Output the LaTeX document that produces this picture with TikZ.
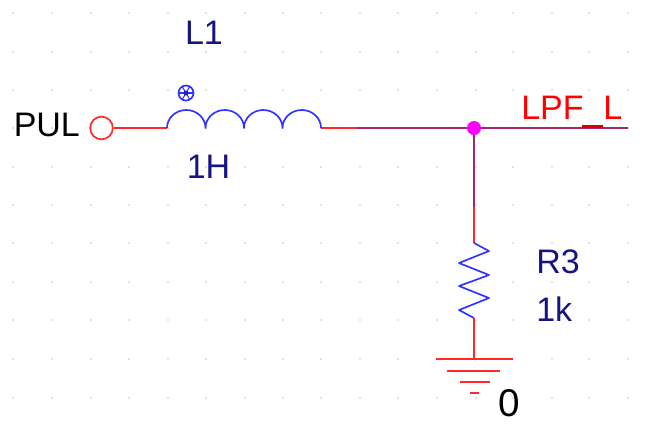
\documentclass[tikz,border=0pt]{standalone}
\usepackage{fontspec}
\setmainfont{Liberation Sans}
\definecolor{wirered}{RGB}{255,40,40}
\definecolor{partblue}{RGB}{50,50,255}
\definecolor{netpurple}{RGB}{160,40,110}
\definecolor{labelblue}{RGB}{20,20,130}
\definecolor{griddot}{RGB}{195,195,195}
\definecolor{junction}{RGB}{255,0,255}
\tikzset{
  wire/.style={draw=wirered,line width=1.25pt},
  part/.style={draw=partblue,line width=1.25pt},
  net/.style={draw=netpurple,line width=1.25pt},
  txt/.style={inner sep=0pt,font=\fontsize{25.5pt}{25.5pt}\selectfont},
  bluetxt/.style={txt,text=labelblue},
  blacktxt/.style={txt,text=black},
  redtxt/.style={txt,text=red},
}
\begin{document}
\begin{tikzpicture}[x=0.75pt,y=-0.75pt]
\useasboundingbox (0,0) rectangle (663,426);
\fill[white] (0,0) rectangle (663,426);
% grid dots
\foreach \gx in {13,52,91,129,168,206,245,283,321,360,398,437,476,513,552,589,628}
  \foreach \gy in {13,52,90,128,167,205,243,282,320,359,398}
    \fill[griddot] (\gx,\gy) circle[radius=0.85];
% anchors
\node[circle,draw=wirered,line width=1.25pt,minimum size=17pt,inner sep=0pt] (pin) at (101.5,128) {};
\coordinate (coilA) at (167,128);
\coordinate (coilB) at (321,128);
\coordinate (wireEnd) at (358,128);
\node[circle,fill=junction,inner sep=0pt,minimum size=10.5pt] (jn) at (474,128) {};
\coordinate (netEnd) at (628,128);
\coordinate (split) at (474,207);
\coordinate (resTop) at (474,243);
\coordinate (resBot) at (474,318);
\coordinate (gnd) at (474,359);
% wires
\draw[wire] (pin.east) -- (coilA);
\draw[wire] (coilB) -- (wireEnd);
\draw[net] (wireEnd) -- (jn) -- (netEnd);
\draw[net] (jn) -- (split);
\draw[wire] (split) -- (resTop);
\draw[wire] (resBot) -- (gnd);
% inductor
\draw[part,line join=round] (coilA) arc[start angle=180,end angle=360,x radius=19.25,y radius=18]
  arc[start angle=180,end angle=360,x radius=19.25,y radius=18]
  arc[start angle=180,end angle=360,x radius=19.25,y radius=18]
  arc[start angle=180,end angle=360,x radius=19.25,y radius=18];
% phase dot
\coordinate (phase) at (186,93);
\draw[part] (phase) circle[radius=7.5];
\foreach \a in {0,60,120}
  \draw[draw=partblue,line width=0.8pt] ([shift={(\a:7)}]phase) -- ([shift={(\a+180:7)}]phase);
\fill[partblue!70!black] (phase) circle[radius=2.5];
% resistor
\draw[part,line join=round] (resTop) -- (489,251) -- (459,263) -- (489,275) -- (459,286) -- (489,298) -- (459,310) -- (resBot);
% ground
\draw[wire] (436,359) -- (gnd) -- (513,359);
\draw[wire] (447,371) -- (500,371);
\draw[wire] (460,382) -- (490,382);
\fill[wirered] (469.5,392) rectangle (478.5,394);
% labels
\node[bluetxt,anchor=base] (l1) at (204,44) {L1};
\node[bluetxt,anchor=base] (oneh) at (208.5,178) {1H};
\node[blacktxt,anchor=base west] (pul) at (13.5,136) {PUL};
\node[redtxt,anchor=base west] (lpf) at (521,119) {LPF};
\node[redtxt,anchor=base west] (lpfl) at (603,119) {L};
\fill[red!85!black] (582,124.5) rectangle (603,128);
\node[bluetxt,anchor=base west] (r3) at (536,273) {R3};
\node[bluetxt,anchor=base west] (r1k) at (536,321) {1k};
\node[blacktxt,anchor=base,font=\fontsize{29pt}{29pt}\selectfont] (zero) at (509,416) {0};
\end{tikzpicture}
\end{document}
